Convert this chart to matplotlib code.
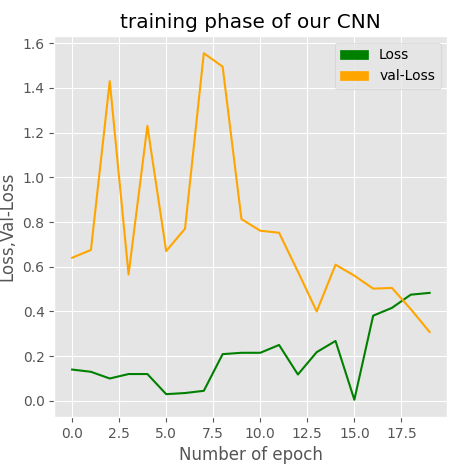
import matplotlib

matplotlib.use("Agg")
import matplotlib.patches as mpatches
import matplotlib.pyplot as plt

plt.style.use("ggplot")

# --- dati ---
epochs = list(range(20))
loss = [0.14, 0.13, 0.10, 0.12, 0.12, 0.03, 0.035, 0.045, 0.209, 0.215,
        0.215, 0.25, 0.118, 0.218, 0.268, 0.005, 0.381, 0.416, 0.475, 0.483]
val_loss = [0.64, 0.675, 1.43, 0.565, 1.23, 0.67, 0.77, 1.555, 1.495, 0.813,
            0.761, 0.752, 0.578, 0.40, 0.609, 0.56, 0.502, 0.505, 0.41, 0.308]

C_LOSS = "green"
C_VAL = "orange"

fig = plt.figure(figsize=(4.52, 4.66), dpi=100)
ax = fig.add_axes([0.12, 0.105, 0.87, 0.818])

ax.plot(epochs, loss, color=C_LOSS, linewidth=1.5)
ax.plot(epochs, val_loss, color=C_VAL, linewidth=1.5)

ax.set_title("training phase of our CNN")
ax.set_xlabel("Number of epoch")
ax.set_ylabel("Loss,Val-Loss")

handles = [
    mpatches.Patch(color=C_LOSS, label="Loss"),
    mpatches.Patch(color=C_VAL, label="val-Loss"),
]
ax.legend(handles=handles, loc="upper right")

fig.savefig("out.png", dpi=100)
